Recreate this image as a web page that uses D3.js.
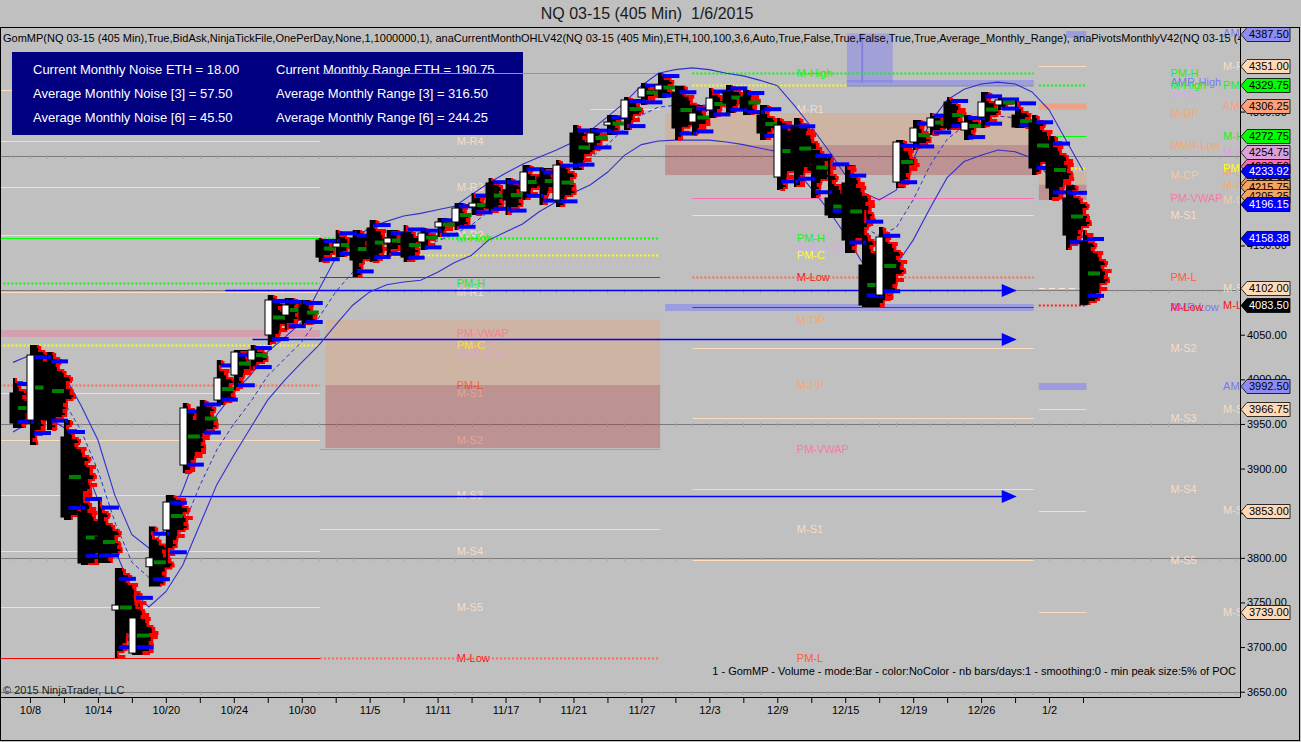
<!DOCTYPE html>
<html>
<head>
<meta charset="utf-8">
<script src="https://cdn.jsdelivr.net/npm/d3@7"></script>
<style>
html, body { margin: 0; padding: 0; background: #c0c0c0; overflow: hidden; }
svg { display: block; font-family: "Liberation Sans", Arial, sans-serif; }
</style>
</head>
<body>
<div id="chart"></div>
<script>
const width = 1301;
const height = 742;

// time axis: bar index -> date label
const dateTicks = [1, 5, 9, 13, 17, 21, 25, 29, 33, 37, 41, 45, 49, 53, 57, 61];
const dateLabels = ["10/8", "10/14", "10/20", "10/24", "10/30", "11/5", "11/11", "11/17",
    "11/21", "11/27", "12/3", "12/9", "12/15", "12/19", "12/26", "1/2"];

// 405 min bars
const opens = [3984.7, 3954.4, 4019.4, 3935.4, 3851.3, 3823.4, 3741.5, 3693.3, 3790, 3831.2,
    3904.0, 3969.0, 3976.8, 4004.8, 4021.6, 4049.7, 4072, 4083.3, 4156.1, 4148.2,
    4158.3, 4169.5, 4152.7, 4163.9, 4153.9, 4170.7, 4176.3, 4193.1, 4220.0, 4212.1,
    4209.9, 4226.7, 4200.9, 4276.0, 4264.8, 4284.9, 4292.8, 4316.3, 4324.2, 4321.9,
    4288.3, 4301.8, 4321.9, 4316.3, 4296.1, 4226.7, 4282.7, 4240.1, 4203.2, 4220.0,
    4128.1, 4094.5, 4221.1, 4265.9, 4282.7, 4310.7, 4279.3, 4293.9, 4307.4, 4296.1,
    4287.2, 4254.7, 4203.2, 4153.9];
const highs = [4001.5, 4038.4, 4030.6, 3954.4, 3876.0, 3864.8, 3788.6, 3763.9, 3835, 3870.4,
    3973.5, 3976.8, 4021.6, 4032.8, 4038.4, 4094.5, 4091, 4088.9, 4158.3, 4167.3,
    4167.3, 4178.5, 4167.3, 4172.9, 4169.5, 4180.7, 4197.5, 4208.8, 4225.6, 4225.6,
    4240.1, 4236.8, 4245.7, 4284.9, 4281.6, 4296.1, 4316.3, 4332.0, 4343.2, 4329.0,
    4307.4, 4326.4, 4329.75, 4324.2, 4307.4, 4292.8, 4292.8, 4256.9, 4249.1, 4240.1,
    4189.7, 4170.7, 4268.1, 4290.5, 4298.4, 4316.3, 4296.1, 4321.9, 4315.2, 4313.0,
    4296.1, 4272.75, 4217.7, 4167.3];
const lows = [3945.5, 3926.4, 3943.2, 3842.4, 3791.9, 3794.2, 3687.7, 3691.1, 3768, 3797.5,
    3895.0, 3935.4, 3971.2, 3988.0, 4010.4, 4038.4, 4055.3, 4060.9, 4131.4, 4137.0,
    4114.6, 4131.4, 4137.0, 4131.4, 4144.9, 4159.5, 4167.3, 4184.1, 4186.4, 4184.1,
    4200.9, 4195.3, 4193.1, 4234.5, 4256.9, 4273.7, 4279.3, 4307.4, 4315.2, 4268.1,
    4273.7, 4292.8, 4298.4, 4296.1, 4268.1, 4212.1, 4215.5, 4203.2, 4180.7, 4141.5,
    4081.0, 4088.9, 4214.4, 4256.9, 4273.7, 4279.3, 4268.1, 4281.6, 4301.8, 4281.6,
    4228.9, 4200.9, 4144.9, 4083.5];
const closes = [3951.0, 4027.2, 3954.4, 3845.7, 3794.2, 3812.1, 3747.1, 3732.6, 3800, 3862.5,
    3967.9, 3943.2, 4001.5, 4030.6, 4032.8, 4088.9, 4083.3, 4066.5, 4137.0, 4152.7,
    4133.7, 4137.0, 4158.3, 4137.0, 4163.9, 4176.3, 4191.9, 4197.5, 4191.9, 4200.9,
    4232.3, 4217.7, 4240.1, 4243.5, 4276.0, 4288.3, 4313.0, 4326.4, 4329.8, 4281.6,
    4298.4, 4315.2, 4309.6, 4304.0, 4276.0, 4284.9, 4234.5, 4234.5, 4184.1, 4156.1,
    4083.3, 4159.5, 4265.9, 4281.6, 4292.8, 4281.6, 4288.3, 4310.7, 4313.0, 4282.7,
    4236.8, 4214.4, 4161.7, 4083.5];

// envelope around the price
const bandUpper = [4019, 4027, 4024, 4005, 3971, 3932, 3870, 3826, 3811, 3833,
    3876, 3926, 3960, 3985, 4005, 4031, 4047, 4064, 4100, 4136,
    4156, 4170, 4177, 4183, 4186, 4190, 4194, 4207, 4220, 4231,
    4241, 4249, 4257, 4266, 4279, 4294, 4310, 4329, 4343, 4347,
    4349, 4347, 4343, 4340, 4335, 4329, 4307, 4283, 4257, 4229,
    4210, 4201, 4212, 4246, 4288, 4313, 4325, 4331, 4333, 4331,
    4322, 4302, 4268, 4233.92];
const bandMid = [3980, 3990, 3990, 3975, 3943, 3898, 3840, 3795, 3778, 3797,
    3834, 3881, 3921, 3950, 3975, 4004, 4023, 4042, 4069, 4098,
    4120, 4134, 4141, 4146, 4149, 4155, 4163, 4173, 4188, 4198,
    4208, 4218, 4228, 4237, 4248, 4263, 4281, 4296, 4305, 4307,
    4308, 4307, 4305, 4301, 4297, 4292, 4272, 4249, 4223, 4195,
    4171, 4161, 4170, 4201, 4240, 4269, 4284, 4291, 4295, 4293,
    4285, 4265, 4231, 4196.15];
const bandLower = [3941, 3952, 3957, 3946, 3915, 3865, 3809, 3764, 3745, 3762,
    3792, 3837, 3882, 3915, 3946, 3977, 3999, 4019, 4038, 4061,
    4083, 4098, 4106, 4109, 4111, 4120, 4131, 4139, 4156, 4165,
    4174, 4188, 4199, 4209, 4218, 4232, 4251, 4263, 4267, 4268,
    4268, 4268, 4266, 4263, 4259, 4255, 4237, 4214, 4190, 4162,
    4131, 4120, 4128, 4156, 4192, 4226, 4244, 4251, 4257, 4255,
    4248, 4228, 4194, 4158.38];

// monthly levels: [kind, name, price, optional start bar]
const octLevels = [
    ["peach", "", 4324.2], ["peach", "M-R4", 4267.0], ["peach", "M-R3", 4215.5],
    ["peach", "M-R2", 4161.7], ["green", "M-High", 4158.3], ["greenDot", "PM-H", 4107.9],
    ["peach", "M-R1", 4097.8], ["pinkBand", "PM-VWAP", 4051.9], ["yellowDot", "PM-C", 4038.4],
    ["ghost", "AMR-High", 4028.4], ["pmlDot", "PM-L", 3993.6], ["peach", "M-S1", 3984.7],
    ["peach", "M-S2", 3932.0], ["peach", "M-S3", 3870.4], ["peach", "M-S4", 3807.6],
    ["peach", "M-S5", 3744.9], ["red", "M-Low", 3687.7]
];
const novLevels = [
    ["green", "M-High", 4343.2, 18.26], ["peach", "M-R1", 4302.9, 34], ["greenDot", "PM-H", 4158.3],
    ["ghost", "AMR-High", 4148.2], ["yellowDot", "PM-C", 4139.3], ["red", "M-Low", 4114.6],
    ["pink", "PM-VWAP", 3921.9], ["peach", "M-S1", 3832.3], ["pmlDot", "PM-L", 3687.7]
];
const decLevels = [
    ["greenDot", "PM-H", 4343.2], ["yellowDot", "", 4329.8], ["amrBand", "AMR-High", 4332.5, 49.1],
    ["green", "M-High", 4329.75, 49.1], ["ghost", "M-R1", 4321.0], ["pink", "PM-VWAP", 4203.2],
    ["peach", "M-S1", 4184.1], ["pmlDot", "PM-L", 4114.6], ["amrBand", "AMR-Low", 4081.0, 38.4],
    ["red", "M-Low", 4081.0], ["peach", "M-S2", 4035.1], ["peach", "M-S3", 3956.6],
    ["peach", "M-S4", 3877.1], ["peach", "M-S5", 3797.5]
];
const janLevels = [
    ["amrBand", "AMR-High", 4387.5, 62], ["peach", "M-R1", 4351.0], ["greenDot", "PM-H", 4329.75],
    ["salmonBand", "AMR-Mid", 4306.25], ["green", "M-High", 4272.75, 61], ["plumGhost", "M-R2", 4254.75],
    ["yellowDot", "PM-C", 4236.75], ["peachDash", "M-S1", 4102.0], ["redDot", "M-Low", 4083.5],
    ["amrBand", "AMR-Low", 3992.5], ["peach", "M-S2", 3966.75], ["peach", "M-S3", 3853.0],
    ["peach", "M-S4", 3739.0]
];

// month spans in bar units and their shaded zones [top, middle, bottom]
const octSpan = [-0.8, 18.08];
const novSpan = [18.08, 38.1];
const decSpan = [40.0, 60.1];
const janSpan = [60.4, 63.2];
const novBox = [4066.5, 3993.6, 3923.0];
const decBox = [4298.4, 4262.5, 4228.9];
const janBox = [4232.3, 4218.0, 4200.9];
const novBoxSpan = [18.4, 38.1];
const decBoxSpan = [38.4, 60.1];
const janBoxSpan = [60.4, 63.2];
const novBoxNames = ["M-DP", "M-PP"];
const decBoxNames = ["M-DP", "MMR-Low", "M-CP"];
const janBoxNames = ["M-DP", "M-PP", "M-CP"];
const amrSpike = [49.1, 51.8, 4387.5, 4332.5];

// drawn arrows
const arrowPrices = [4100.1, 4045.2, 3869.3];
const arrowStarts = [12.5, 14.1, 9];
const arrowEnd = 59.1;

// price markers on the right scale
const tagPrices = [4387.5, 4351.0, 4329.75, 4306.25, 4272.75, 4254.75, 4238.5, 4220.25, 4215.75,
    4205.25, 4102.0, 3992.5, 3966.75, 3853.0, 3739.0];
const tagKinds = ["amr", "peach", "green", "salmon", "green", "plum", "pink", "sandy", "sandy",
    "sandy", "peach", "amr", "peach", "peach", "peach"];

// scale labels left visible beside the tags
const priceTicks = [3650, 3700, 3750, 3800, 3850, 3900, 3950, 4000, 4050, 4150, 4300];
const gridPrices = [3650, 3800, 3950, 4100, 4250];
const infoLeft = ["Current Monthly Noise ETH = 18.00", "Average Monthly Noise [3] = 57.50", "Average Monthly Noise [6] = 45.50"];
const infoRight = ["Current Monthly Range ETH = 190.75", "Average Monthly Range [3] = 316.50", "Average Monthly Range [6] = 244.25"];

const levelStyle = {
    peach: { stroke: "#ffdcbc", w: 1, text: "#f7dcc6" },
    peachDash: { stroke: "#ffe6d0", w: 1, dash: "6,4", text: "#f7dcc6" },
    green: { stroke: "#00ff00", w: 1, text: "#22ee22" },
    greenDot: { stroke: "#00ff00", w: 2, dash: "2,2", text: "#22ee22" },
    yellowDot: { stroke: "#ffff00", w: 2, dash: "2,2", text: "#ffff00" },
    red: { stroke: "#ff0000", w: 1, text: "#ff1010" },
    redDot: { stroke: "#ff2020", w: 2, dash: "2,2", text: "#ff1010" },
    pmlDot: { stroke: "#ff6a4a", w: 2, dash: "2,2", text: "#ff5a3a" },
    pink: { stroke: "#ff6eb4", w: 1, text: "#f77aa8" },
    pinkBand: { stroke: "rgba(240,120,150,0.45)", w: 7, text: "#f77aa8" },
    ghost: { stroke: null, text: "rgba(215,170,245,0.75)" },
    plumGhost: { stroke: null, text: "#dda0dd" },
    amrBand: { stroke: "rgba(125,125,245,0.55)", w: 7, text: "#7878f4" },
    salmonBand: { stroke: "rgba(255,150,110,0.7)", w: 6, text: "#ffa07a" }
};
const tagFill = { amr: "#8c8cf4", peach: "#ffdab9", green: "#00ff00", salmon: "#ffa07a",
    plum: "#dda0dd", pink: "#ff69b4", sandy: "#f4a460", blue: "#0000ff", last: "#000000" };

const plotR = 1240, plotT = 27, plotB = 697;
const x = d3.scaleLinear().domain([0, 63]).range([13, 1083]);
const y = d3.scaleLinear().domain([3650, 4387.5]).range([691.7, 33.5]);
const labelGap = 8.05;

const svg = d3.select("#chart")
    .append("svg")
    .attr("width", width)
    .attr("height", height);

svg.append("rect").attr("width", width).attr("height", height).attr("fill", "#c0c0c0");

svg.append("defs").append("clipPath").attr("id", "plotClip")
    .append("rect").attr("x", 0).attr("y", plotT).attr("width", plotR).attr("height", plotB - plotT);

const lower = svg.append("g").attr("clip-path", "url(#plotClip)");

// grid lines with small bar ticks
gridPrices.forEach(p => {
    lower.append("line")
        .attr("x1", 0).attr("x2", plotR)
        .attr("y1", Math.round(y(p)) + 0.5).attr("y2", Math.round(y(p)) + 0.5)
        .attr("stroke", "#7a7a7a");
    lower.append("g").selectAll("line")
        .data(d3.range(0, 73))
        .join("line")
        .attr("x1", d => Math.round(x(d)) + 0.5).attr("x2", d => Math.round(x(d)) + 0.5)
        .attr("y1", Math.round(y(p)) - 1).attr("y2", Math.round(y(p)) + 3)
        .attr("stroke", "#a6a6a6");
});

function drawBox(layer, box, span, names) {
    const g = layer.append("g");
    g.append("rect")
        .attr("x", x(span[0])).attr("width", x(span[1]) - x(span[0]))
        .attr("y", y(box[0])).attr("height", y(box[1]) - y(box[0]))
        .attr("fill", "rgba(240,150,90,0.28)");
    g.append("rect")
        .attr("x", x(span[0])).attr("width", x(span[1]) - x(span[0]))
        .attr("y", y(box[1])).attr("height", y(box[2]) - y(box[1]))
        .attr("fill", "rgba(180,40,40,0.30)");
    const lx = x(span[1] + labelGap);
    names.forEach((n, k) => {
        g.append("text")
            .attr("x", lx).attr("y", y(box[k]))
            .attr("dy", "0.35em")
            .attr("font-size", 11)
            .attr("fill", k === 2 ? "#f5c9a4" : "#f4a870")
            .text(n);
    });
}

function drawLevels(layer, levels, span) {
    const g = layer.append("g");
    levels.forEach(d => {
        const st = levelStyle[d[0]];
        const x0 = x(d[3] !== undefined ? d[3] : span[0]);
        const yy = Math.round(y(d[2])) + 0.5;
        if (st.stroke) {
            g.append("line")
                .attr("x1", x0).attr("x2", x(span[1]))
                .attr("y1", yy).attr("y2", yy)
                .attr("stroke", st.stroke)
                .attr("stroke-width", st.w)
                .attr("stroke-dasharray", st.dash || null);
        }
    });
    const lx = x(span[1] + labelGap);
    levels.forEach(d => {
        if (!d[1]) return;
        g.append("text")
            .attr("x", lx).attr("y", y(d[2]))
            .attr("dy", "0.35em")
            .attr("font-size", 11)
            .attr("fill", levelStyle[d[0]].text)
            .text(d[1]);
    });
}

drawLevels(lower, octLevels, octSpan);

// info panel sits above the October lines, later months draw over it
const info = svg.append("g");
info.append("rect").attr("x", 12).attr("y", 52).attr("width", 511).attr("height", 83).attr("fill", "#000080");
info.selectAll("text.l").data(infoLeft).join("text")
    .attr("class", "l")
    .attr("x", 33).attr("y", (d, k) => 69 + k * 24).attr("dy", "0.35em")
    .attr("font-size", 13).attr("fill", "#ffffff").text(d => d);
info.selectAll("text.r").data(infoRight).join("text")
    .attr("class", "r")
    .attr("x", 276).attr("y", (d, k) => 69 + k * 24).attr("dy", "0.35em")
    .attr("font-size", 13).attr("fill", "#ffffff").text(d => d);

const upper = svg.append("g").attr("clip-path", "url(#plotClip)");

drawBox(upper, novBox, novBoxSpan, novBoxNames);
drawBox(upper, decBox, decBoxSpan, decBoxNames);
drawBox(upper, janBox, janBoxSpan, janBoxNames);

// purple AMR projection block
upper.append("rect")
    .attr("x", x(amrSpike[0])).attr("width", x(amrSpike[1]) - x(amrSpike[0]))
    .attr("y", y(amrSpike[2])).attr("height", y(amrSpike[3]) - y(amrSpike[2]))
    .attr("fill", "rgba(125,125,245,0.45)");
upper.append("line")
    .attr("x1", x(50)).attr("x2", x(50))
    .attr("y1", y(amrSpike[2])).attr("y2", y(amrSpike[3]))
    .attr("stroke", "rgba(110,110,230,0.6)").attr("stroke-width", 2);

drawLevels(upper, novLevels, novSpan);
drawLevels(upper, decLevels, decSpan);
drawLevels(upper, janLevels, janSpan);

// arrows
arrowPrices.forEach((p, k) => {
    const yy = Math.round(y(p)) + 0.5;
    const xe = x(arrowEnd);
    upper.append("line")
        .attr("x1", x(arrowStarts[k])).attr("x2", xe - 14)
        .attr("y1", yy).attr("y2", yy)
        .attr("stroke", "#0000ff").attr("stroke-width", 1.3);
    upper.append("path")
        .attr("d", `M${xe},${yy} L${xe - 15},${yy - 6.5} L${xe - 15},${yy + 6.5} Z`)
        .attr("fill", "#0000ff");
});

// envelope lines
const bars = d3.range(opens.length);
const lineOf = arr => d3.line().x(i => x(i)).y(i => y(arr[i]))(bars);
upper.append("path").attr("d", lineOf(bandUpper)).attr("fill", "none").attr("stroke", "#3030d0").attr("stroke-width", 1.1);
upper.append("path").attr("d", lineOf(bandLower)).attr("fill", "none").attr("stroke", "#3030d0").attr("stroke-width", 1.1);
upper.append("path").attr("d", lineOf(bandMid)).attr("fill", "none").attr("stroke", "#3030d0")
    .attr("stroke-width", 1).attr("stroke-dasharray", "4,3");

// volume profiles next to each bar (stepped histogram shape, ragged edge)
function profilePoints(i) {
    const xc = x(i), yh = y(highs[i]), yl = y(lows[i]);
    const span = Math.max(yl - yh, 4);
    const yp = y((opens[i] + closes[i]) / 2);
    const maxW = Math.min(30, 8 + 0.2 * span);
    const pts = [];
    let k = 0;
    for (let yy = yh; yy < yl; yy += 2, k++) {
        const t = (yy - yp) / (span * 0.5 + 4);
        const jag = ((k * k * 3 + k * 7 + i * 11) % 9) - 4;
        const w = Math.max(2, maxW * Math.exp(-1.8 * t * t) + jag);
        pts.push([xc + 1 + w, yy], [xc + 1 + w, Math.min(yy + 2, yl)]);
    }
    return pts;
}
const prof = upper.append("g");
bars.forEach(i => {
    const xc = x(i);
    const pts = profilePoints(i);
    const all = [[xc, y(highs[i])]].concat(pts, [[xc, y(lows[i])]]);
    prof.append("path").attr("d", d3.line()(all) + "Z").attr("fill", "#000000");
    prof.append("path").attr("d", d3.line()(pts)).attr("fill", "none")
        .attr("stroke", "#ff0000").attr("stroke-width", 2);
});
const marks = upper.append("g");
bars.forEach(i => {
    const xc = x(i), rng = highs[i] - lows[i];
    [highs[i] - 0.12 * rng, lows[i] + 0.12 * rng].forEach(p => {
        marks.append("rect").attr("x", xc + 4).attr("y", y(p) - 2)
            .attr("width", 17).attr("height", 4).attr("fill", "#0000ff");
    });
    marks.append("rect").attr("x", xc + 5).attr("y", y((opens[i] + closes[i]) / 2) - 2)
        .attr("width", 12).attr("height", 4).attr("fill", "#008000");
});

// candles
const candles = upper.append("g");
candles.selectAll("line").data(bars).join("line")
    .attr("x1", i => Math.round(x(i)) + 0.5).attr("x2", i => Math.round(x(i)) + 0.5)
    .attr("y1", i => y(highs[i])).attr("y2", i => y(lows[i]))
    .attr("stroke", "#000000");
candles.selectAll("rect").data(bars).join("rect")
    .attr("x", i => Math.round(x(i)) - 3)
    .attr("width", 7)
    .attr("y", i => y(Math.max(opens[i], closes[i])))
    .attr("height", i => Math.max(1, Math.abs(y(opens[i]) - y(closes[i]))))
    .attr("fill", i => closes[i] >= opens[i] ? "#ffffff" : "#000000")
    .attr("stroke", "#000000");

// header texts
svg.append("text").attr("x", 647).attr("y", 19).attr("text-anchor", "middle")
    .attr("font-size", 16).attr("fill", "#1a1a1a").text("NQ 03-15 (405 Min)\u00a0 1/6/2015");
upper.append("text").attr("x", 3).attr("y", 38).attr("dy", "0.35em")
    .attr("font-size", 11).attr("fill", "#000000")
    .text("GomMP(NQ 03-15 (405 Min),True,BidAsk,NinjaTickFile,OnePerDay,None,1,1000000,1), anaCurrentMonthOHLV42(NQ 03-15 (405 Min),ETH,100,100,3,6,Auto,True,False,True,False,True,True,Average_Monthly_Range), anaPivotsMonthlyV42(NQ 03-15 (405 Min))");
svg.append("text").attr("x", 1236).attr("y", 671).attr("dy", "0.35em").attr("text-anchor", "end")
    .attr("font-size", 11).attr("fill", "#000000")
    .text("1 - GomMP - Volume - mode:Bar - color:NoColor - nb bars/days:1 - smoothing:0 - min peak size:5% of POC");
svg.append("text").attr("x", 3).attr("y", 690).attr("dy", "0.35em")
    .attr("font-size", 11).attr("fill", "#222222").text("\u00a9 2015 NinjaTrader, LLC");

// frame and axes
svg.append("rect").attr("x", 0.5).attr("y", plotT + 0.5).attr("width", 1299).attr("height", 713)
    .attr("fill", "none").attr("stroke", "#000000");
svg.append("line").attr("x1", plotR + 0.5).attr("x2", plotR + 0.5).attr("y1", plotT).attr("y2", plotB + 0.5).attr("stroke", "#000000");
svg.append("line").attr("x1", 0).attr("x2", plotR + 0.5).attr("y1", plotB + 0.5).attr("y2", plotB + 0.5).attr("stroke", "#000000");

const xAxis = svg.append("g").attr("transform", `translate(0,${plotB})`)
    .call(d3.axisBottom(x)
        .tickValues(d3.range(1, 64, 2))
        .tickSize(6)
        .tickFormat(i => { const k = dateTicks.indexOf(i); return k >= 0 ? dateLabels[k] : ""; }));
xAxis.select(".domain").remove();
xAxis.selectAll("text").attr("font-size", 11).attr("font-family", null).attr("fill", "#000");
xAxis.selectAll("line").attr("stroke", "#000");

const yAxis = svg.append("g").attr("transform", `translate(${plotR},0)`)
    .call(d3.axisRight(y)
        .tickValues(priceTicks)
        .tickSize(5)
        .tickFormat(d3.format(".2f")));
yAxis.select(".domain").remove();
yAxis.selectAll("text").attr("font-size", 11).attr("font-family", null).attr("fill", "#000").attr("x", 7);
yAxis.selectAll("line").attr("stroke", "#000");

// value tags
function tag(p, kind) {
    const yy = Math.round(y(p)) + 0.5;
    const g = svg.append("g");
    g.append("path")
        .attr("d", `M${plotR + 1},${yy} L${plotR + 7},${yy - 7} L1290,${yy - 7} L1290,${yy + 7} L${plotR + 7},${yy + 7} Z`)
        .attr("fill", tagFill[kind]).attr("stroke", "#000").attr("stroke-width", 0.8);
    g.append("text").attr("x", plotR + 9).attr("y", yy).attr("dy", "0.36em")
        .attr("font-size", 11)
        .attr("fill", (kind === "blue" || kind === "last") ? "#ffffff" : "#000000")
        .text(d3.format(".2f")(p));
}
tagPrices.forEach((p, k) => tag(p, tagKinds[k]));
const last = opens.length - 1;
tag(bandUpper[last], "blue");
tag(bandMid[last], "blue");
tag(bandLower[last], "blue");
tag(closes[last], "last");
</script>
</body>
</html>
